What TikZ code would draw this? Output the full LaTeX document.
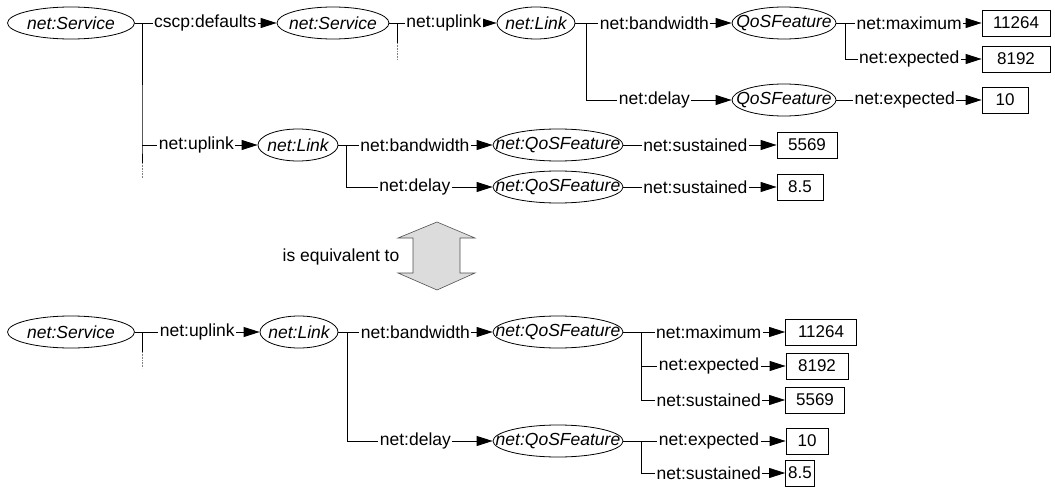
\documentclass[tikz,border=0pt]{standalone}
\usepackage{fontspec}
\setmainfont{Liberation Sans}
\usetikzlibrary{arrows.meta,shapes.geometric}

\definecolor{eqfill}{RGB}{220,220,220}
\definecolor{eqline}{RGB}{80,80,80}

% ellipse size is set by hand, so the label takes no room
\newcommand{\tight}[1]{\makebox[0pt]{#1}}

\begin{document}
\begin{tikzpicture}[x=1pt, y=-1pt, line width=0.8pt,
  font=\fontsize{17.5}{21}\selectfont,
  res/.style={ellipse, draw, inner sep=0pt, minimum height=32pt,
    font=\fontsize{17.5}{20}\selectfont\itshape},
  lit/.style={draw, inner sep=0pt, minimum height=26pt,
    font=\fontsize{17}{20}\selectfont},
  rel/.style={-{Triangle[length=16pt,width=10pt]}},
  lbl/.style={pos=0.47, fill=white, inner xsep=1.5pt, inner ysep=1pt},
  more/.style={gray, densely dotted, line width=0.6pt}]
\useasboundingbox (0,0) rectangle (1055,487);

% --- nested form ---
\node[res, minimum width=127pt] (svcA) at (71,23) {\tight{net:Service}};
\node[res, minimum width=112pt] (svcB) at (333,23) {\tight{net:Service}};
\node[res, minimum width=78pt] (linkA) at (536,23) {\tight{net:Link}};
\node[res, minimum width=104pt] (qosA) at (784,23) {\tight{QoSFeature}};
\node[res, minimum width=104pt] (qosB) at (784,100) {\tight{QoSFeature}};
\node[lit, minimum width=68pt] (maxA) at (1016,23) {11264};
\node[lit, minimum width=68pt] (expA) at (1016,59) {8192};
\node[lit, minimum width=46pt] (expB) at (1005,100) {10};

\node[res, minimum width=80pt] (linkB) at (298,145) {\tight{net:Link}};
\node[res, minimum width=130pt] (qfA) at (558,145) {\tight{net:QoSFeature}};
\node[res, minimum width=130pt] (qfB) at (558,187) {\tight{net:QoSFeature}};
\node[lit, minimum width=60pt] (susA) at (807,145) {5569};
\node[lit, minimum width=46pt] (susB) at (800,187) {8.5};

\coordinate (bA) at (142,23);
\coordinate (bB) at (397,23);
\coordinate (bC) at (586,23);
\coordinate (bD) at (845,23);
\coordinate (bE) at (346,145);

\draw (svcA) -- (bA) -- (bA |- linkB) -- ++(0,18) coordinate (endA);
\draw[more] (endA) -- ++(0,15);
\draw[rel] (bA) -- node[lbl] {cscp:defaults} (svcB);
\draw[rel] (bA |- linkB) -- node[lbl] {net:uplink} (linkB);

\draw (svcB) -- (bB) -- ++(0,20) coordinate (endB);
\draw[more] (endB) -- ++(0,17);
\draw[rel] (bB) -- node[lbl] {net:uplink} (linkA);

\draw (linkA) -- (bC) -- (bC |- qosB);
\draw[rel] (bC) -- node[lbl] {net:bandwidth} (qosA);
\draw[rel] (bC |- qosB) -- node[lbl] {net:delay} (qosB);

\draw (qosA) -- (bD) -- (bD |- expA);
\draw[rel] (bD) -- node[lbl] {net:maximum} (maxA);
\draw[rel] (bD |- expA) -- node[lbl] {net:expected} (expA);
\draw[rel] (qosB) -- node[lbl] {net:expected} (expB);

\draw (linkB) -- (bE) -- (bE |- qfB);
\draw[rel] (bE) -- node[lbl] {net:bandwidth} (qfA);
\draw[rel] (bE |- qfB) -- node[lbl] {net:delay} (qfB);
\draw[rel] (qfA) -- node[lbl] {net:sustained} (susA);
\draw[rel] (qfB) -- node[lbl] {net:sustained} (susB);

% --- equivalence ---
\coordinate (eq) at (437,256);
\draw[fill=eqfill, draw=eqline, line width=0.6pt]
  (437,222) -- (475,238) -- (460,238) -- (460,273) -- (475,273)
  -- (437,290) -- (398,273) -- (413,273) -- (413,238) -- (398,238) -- cycle;
\node (equiv) at (341,257) {is equivalent to};

% --- flat form ---
\node[res, minimum width=127pt] (svcC) at (71,332) {\tight{net:Service}};
\node[res, minimum width=78pt] (linkC) at (299,332) {\tight{net:Link}};
\node[res, minimum width=130pt] (qfC) at (558,332) {\tight{net:QoSFeature}};
\node[res, minimum width=130pt] (qfD) at (558,441) {\tight{net:QoSFeature}};
\node[lit, minimum width=71pt] (maxC) at (821,332) {11264};
\node[lit, minimum width=62pt] (expC) at (817,366) {8192};
\node[lit, minimum width=59pt] (susC) at (815,400) {5569};
\node[lit, minimum width=42pt] (expD) at (807,441) {10};
\node[lit, minimum width=29pt] (susD) at (800,473) {8.5};

\coordinate (bF) at (142,332);
\coordinate (bG) at (347,332);
\coordinate (bH) at (641,332);
\coordinate (bI) at (641,441);

\draw (svcC) -- (bF) -- ++(0,20) coordinate (endC);
\draw[more] (endC) -- ++(0,16);
\draw[rel] (bF) -- node[lbl] {net:uplink} (linkC);

\draw (linkC) -- (bG) -- (bG |- qfD);
\draw[rel] (bG) -- node[lbl] {net:bandwidth} (qfC);
\draw[rel] (bG |- qfD) -- node[lbl] {net:delay} (qfD);

\draw (qfC) -- (bH) -- (bH |- susC);
\draw[rel] (bH) -- node[lbl] {net:maximum} (maxC);
\draw[rel] (bH |- expC) -- node[lbl] {net:expected} (expC);
\draw[rel] (bH |- susC) -- node[lbl] {net:sustained} (susC);

\draw (qfD) -- (bI) -- (bI |- susD);
\draw[rel] (bI) -- node[lbl] {net:expected} (expD);
\draw[rel] (bI |- susD) -- node[lbl] {net:sustained} (susD);
\end{tikzpicture}
\end{document}
